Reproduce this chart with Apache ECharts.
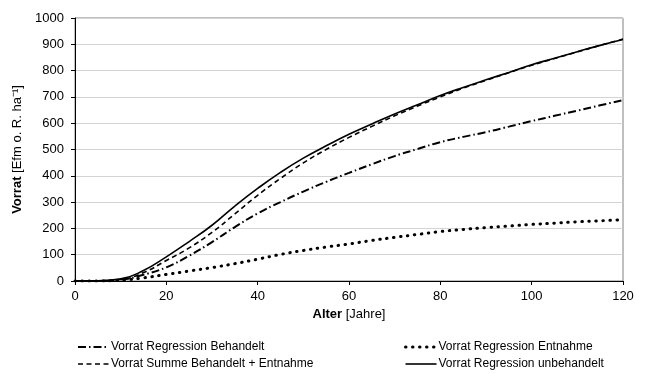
<!DOCTYPE html>
<html>
<head>
<meta charset="utf-8">
<script src="https://cdn.jsdelivr.net/npm/echarts@6/dist/echarts.min.js"></script>
<style>
    body { margin: 0; background: #fff; }
    #chart { width: 660px; height: 374px; }
</style>
</head>
<body>
<div id="chart"></div>
<script>
    // Alter in Jahren
    var alter = [0, 5, 10, 15, 20, 25, 30, 35, 40, 45, 50, 55, 60, 65, 70, 75, 80, 85, 90, 95, 100, 105, 110, 115, 120];

    // Vorrat [Efm o. R. ha-1]
    var behandelt = [0, 0, 5, 24, 52, 96, 148, 205, 257, 300, 340, 377, 411, 444, 475, 502, 528, 548, 566, 587, 608, 628, 648, 668, 688];
    var entnahme = [0, 0, 3, 12, 25, 38, 51, 66, 83, 101, 116, 129, 141, 154, 166, 177, 188, 196, 203, 209, 215, 220, 225, 229, 233];
    var summe = [0, 1, 6, 32, 78, 126, 185, 255, 326, 390, 449, 500, 546, 588, 628, 665, 700, 733, 763, 792, 820, 846, 871, 896, 920];
    var unbehandelt = [0, 1, 8, 40, 92, 150, 212, 285, 352, 413, 467, 514, 558, 597, 635, 670, 705, 736, 765, 793, 822, 847, 872, 896, 918];

    function paare(werte) {
        var res = [];
        for (var i = 0; i < alter.length; i++) {
            res.push([alter[i], werte[i]]);
        }
        return res;
    }

    var myChart = echarts.init(document.getElementById('chart'));
    var schrift = '"Liberation Sans", Arial, sans-serif';

    // Legende: nur Linie, kein Symbol
    var legendeStil = {
        orient: 'vertical', top: 341, padding: 0, itemGap: 5,
        itemWidth: 31, itemHeight: 12,
        itemStyle: { color: 'rgba(0,0,0,0)', borderColor: 'rgba(0,0,0,0)', borderWidth: 0 },
        lineStyle: { width: 'inherit' },
        textStyle: { fontFamily: schrift, fontSize: 12, color: '#000', padding: [0, 0, 0, -3] }
    };

    var option = {
        animation: false,
        textStyle: { fontFamily: schrift, color: '#000' },
        grid: {
            left: 75, right: 37, top: 18, bottom: 93,
            show: true, borderColor: '#808080', borderWidth: 1
        },
        legend: [
            Object.assign({}, legendeStil, {
                left: 77,
                data: ['Vorrat Regression Behandelt', 'Vorrat Summe Behandelt + Entnahme']
            }),
            Object.assign({}, legendeStil, {
                left: 404,
                data: ['Vorrat Regression Entnahme', 'Vorrat Regression unbehandelt']
            })
        ],
        xAxis: {
            type: 'value', min: 0, max: 120, interval: 20,
            name: '{b|Alter} [Jahre]',
            nameLocation: 'middle', nameGap: 21,
            nameTextStyle: {
                fontFamily: schrift, fontSize: 13, color: '#000',
                rich: { b: { fontFamily: schrift, fontSize: 13, fontWeight: 'bold', color: '#000' } }
            },
            axisLine: { lineStyle: { color: '#000', width: 1 } },
            axisTick: { show: true, length: 4, lineStyle: { color: '#000' } },
            axisLabel: { fontFamily: schrift, fontSize: 13, color: '#000', margin: 9 },
            splitLine: { show: false }
        },
        yAxis: {
            type: 'value', min: 0, max: 1000, interval: 100,
            name: '{b|Vorrat} [Efm o. R. ha⁻¹]',
            nameLocation: 'middle', nameGap: 50, nameRotate: 90,
            nameTextStyle: {
                fontFamily: schrift, fontSize: 13, color: '#000',
                rich: { b: { fontFamily: schrift, fontSize: 13, fontWeight: 'bold', color: '#000' } }
            },
            axisLine: { show: true, lineStyle: { color: '#000', width: 1 } },
            axisTick: { show: true, length: 4, lineStyle: { color: '#000' } },
            axisLabel: {
                fontFamily: schrift, fontSize: 13, color: '#000', margin: 11,
                formatter: function (v) { return String(v); }
            },
            splitLine: { show: true, lineStyle: { color: '#d4d4d4', width: 1 } }
        },
        series: [
            {
                name: 'Vorrat Regression Behandelt', type: 'line', symbol: 'none', smooth: true,
                data: paare(behandelt),
                lineStyle: { color: '#000', width: 2, type: [8, 3, 1.5, 3] },
                itemStyle: { color: '#000' }
            },
            {
                name: 'Vorrat Regression Entnahme', type: 'line', symbol: 'none', smooth: true,
                data: paare(entnahme),
                lineStyle: { color: '#000', width: 3, type: [0.5, 6.5], cap: 'round' },
                itemStyle: { color: '#000' }
            },
            {
                name: 'Vorrat Summe Behandelt + Entnahme', type: 'line', symbol: 'none', smooth: true,
                data: paare(summe),
                lineStyle: { color: '#000', width: 1.6, type: [5, 3.5] },
                itemStyle: { color: '#000' }
            },
            {
                name: 'Vorrat Regression unbehandelt', type: 'line', symbol: 'none', smooth: true,
                data: paare(unbehandelt),
                lineStyle: { color: '#000', width: 1.6, type: 'solid' },
                itemStyle: { color: '#000' }
            }
        ]
    };

    if (option && typeof option === "object") {
        myChart.setOption(option, true);
    }
</script>
</body>
</html>
